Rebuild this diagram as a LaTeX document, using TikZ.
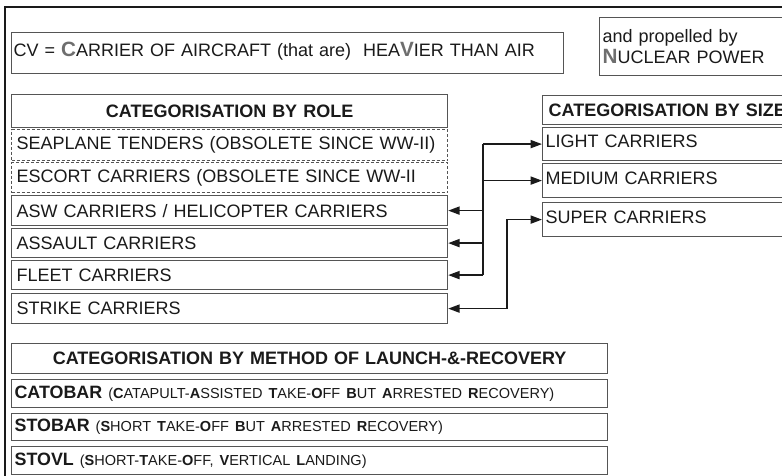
\documentclass[tikz,border=0pt]{standalone}
\usepackage{fontspec}
\setmainfont{Liberation Sans}
\usetikzlibrary{arrows.meta}
\definecolor{bord}{HTML}{555555}
\definecolor{biggray}{HTML}{6E6E6E}
\definecolor{ink}{HTML}{1A1A1A}
\newcommand\bigLetter[1]{{\fontsize{15.5pt}{16pt}\selectfont\bfseries\color{biggray}#1}}
\newcommand\fMain{\fontsize{13.5pt}{15.75pt}\selectfont}
\newcommand\fName{\fontsize{13.4pt}{15.75pt}\selectfont}
\newcommand\fSmall{\fontsize{10.9pt}{13pt}\selectfont}
\tikzset{
  cell/.style={draw=bord, line width=0.9pt, anchor=north west, inner ysep=0pt,
    align=left, font=\fMain, text=ink},
  sizecell/.style={cell, text height=9.7pt, text depth=4.6pt},
  dashcell/.style={cell, dash pattern=on 2.25pt off 1.5pt},
  head/.style={cell, align=center, font=\fMain\bfseries},
  link/.style={draw=ink, line width=1.2pt},
  arr/.style={link, -{Triangle[length=8.5pt,width=6pt]}},
  arrboth/.style={link, {Triangle[length=8.5pt,width=6pt]}-{Triangle[length=8.5pt,width=6pt]}}
}
\begin{document}
\begin{tikzpicture}[x=0.75pt,y=-0.75pt]
\useasboundingbox (0,0) rectangle (782,475);
\clip (0,0) rectangle (782,475);
\fill[white] (0,0) rectangle (782,475);
% outer frame
\draw[draw=ink, line width=1pt] (5,520) -- (5,7) -- (820,7);

% top boxes
\node[sizecell, inner xsep=1.5pt, text width=411pt, minimum height=30.75pt] (cv) at (11,32)
  {CV = \bigLetter{C}ARRIER OF AIRCRAFT (that are)\ \ HEA\bigLetter{V}IER THAN AIR};
\node[cell, inner xsep=2.25pt, text width=183pt, minimum height=43.5pt] (nuc) at (599,17)
  {and propelled by\\\bigLetter{N}UCLEAR POWER};

% role
\node[head, inner xsep=3.75pt, text width=319.5pt, minimum height=24.75pt] (rolehead) at (11,94) {CATEGORISATION BY ROLE};
\node[dashcell, inner xsep=3.75pt, text width=319.5pt, minimum height=23.25pt] (seaplane) at (11,129) {SEAPLANE TENDERS (OBSOLETE SINCE WW-II)};
\node[dashcell, inner xsep=3.75pt, text width=319.5pt, minimum height=22.5pt] (escort) at (11,162) {ESCORT CARRIERS (OBSOLETE SINCE WW-II};
\node[cell, inner xsep=3.75pt, text width=319.5pt, minimum height=22.5pt] (asw) at (11,195) {ASW CARRIERS / HELICOPTER CARRIERS};
\node[cell, inner xsep=3.75pt, text width=319.5pt, minimum height=21.75pt] (assault) at (11,228) {ASSAULT CARRIERS};
\node[cell, inner xsep=3.75pt, text width=319.5pt, minimum height=21.75pt] (fleet) at (11,260) {FLEET CARRIERS};
\node[cell, inner xsep=3.75pt, text width=319.5pt, minimum height=22.5pt] (strike) at (11,293) {STRIKE CARRIERS};

% size
\node[cell, font=\fMain\bfseries, inner xsep=4.5pt, text width=216pt, minimum height=21.75pt] (sizehead) at (542,95) {CATEGORISATION BY SIZE};
\node[sizecell, inner xsep=2.25pt, text width=220.5pt, minimum height=24.75pt] (light) at (542,127) {LIGHT CARRIERS};
\node[sizecell, inner xsep=2.25pt, text width=220.5pt, minimum height=25.5pt] (medium) at (542,163) {MEDIUM CARRIERS};
\node[sizecell, inner xsep=2.25pt, text width=220.5pt, minimum height=25.5pt] (super) at (542,202) {SUPER CARRIERS};

% launch and recovery
\node[head, inner xsep=1.5pt, text width=444pt, minimum height=22.5pt] (launchhead) at (11,343) {CATEGORISATION BY METHOD OF LAUNCH-\&-RECOVERY};
\node[cell, inner xsep=2.25pt, text width=442.5pt, minimum height=21pt] (catobar) at (11,379)
  {{\fName\bfseries CATOBAR} {\fSmall(\textbf{C}ATAPULT-\textbf{A}SSISTED \textbf{T}AKE-\textbf{O}FF \textbf{B}UT \textbf{A}RRESTED \textbf{R}ECOVERY)}};
\node[cell, inner xsep=2.25pt, text width=442.5pt, minimum height=20.25pt] (stobar) at (11,413)
  {{\fName\bfseries STOBAR} {\fSmall(\textbf{S}HORT \textbf{T}AKE-\textbf{O}FF \textbf{B}UT \textbf{A}RRESTED \textbf{R}ECOVERY)}};
\node[cell, inner xsep=2.25pt, text width=442.5pt, minimum height=21pt] (stovl) at (11,446)
  {{\fName\bfseries STOVL} {\fSmall(\textbf{S}HORT-\textbf{T}AKE-\textbf{O}FF, \textbf{V}ERTICAL \textbf{L}ANDING)}};

% connectors
\coordinate (tx) at (483,0);
\coordinate (sx) at (507,0);
\draw[link] (tx |- light.west) -- (tx |- fleet.east);
\draw[arr] (tx |- light.west) -- (light.west);
\draw[arr] (tx |- medium.west) -- (medium.west);
\draw[arr] (tx |- asw.east) -- (asw.east);
\draw[arr] (tx |- assault.east) -- (assault.east);
\draw[arr] (tx |- fleet.east) -- (fleet.east);
\draw[arrboth] (strike.east) -- (sx |- strike.east) -- (sx |- super.west) -- (super.west);
\end{tikzpicture}
\end{document}
